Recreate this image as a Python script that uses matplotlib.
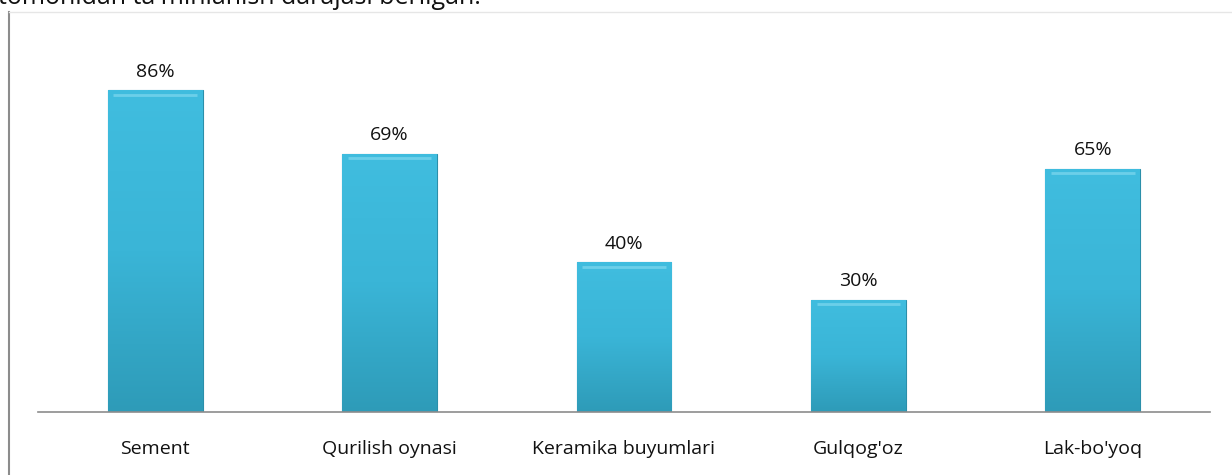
import numpy as np
import matplotlib.pyplot as plt
from matplotlib.lines import Line2D
from matplotlib.colors import LinearSegmentedColormap

categories = ['Sement', 'Qurilish oynasi', 'Keramika buyumlari', "Gulqog'oz", "Lak-bo'yoq"]
values = [86, 69, 40, 30, 65]
labels = ['86%', '69%', '40%', '30%', '65%']

plt.rcParams['font.family'] = ['Open Sans', 'DejaVu Sans']

fig = plt.figure(figsize=(12.32, 4.75), dpi=100)
ax = fig.add_axes([38 / 1232, 1 - 412 / 475, (1210 - 38) / 1232, 374 / 475])

x = np.arange(len(categories))
bars = ax.bar(x, values, width=0.405, color='#37B2D4', edgecolor='#2B8FAA', linewidth=0.8, zorder=2)

# vertical gradient inside each bar
grad = np.linspace(0, 1, 256).reshape(-1, 1)
cmap = LinearSegmentedColormap.from_list('b', ['#2E9BB8', '#3AB5D7', '#40BDDF'])
for b in bars:
    x0, y0 = b.get_x(), b.get_y()
    w, h = b.get_width(), b.get_height()
    im = ax.imshow(grad, cmap=cmap, aspect='auto', origin='lower',
                   extent=[x0, x0 + w, y0, y0 + h], zorder=2.5)
    im.set_clip_path(b)
    # top highlight
    ax.plot([x0 + w * 0.06, x0 + w * 0.94], [y0 + h - 1.2, y0 + h - 1.2],
            color='#7FD8EE', lw=2, alpha=0.7, zorder=3, solid_capstyle='butt')

for xi, v, lab in zip(x, values, labels):
    ax.text(xi, v + 2.6, lab, ha='center', va='bottom', fontsize=14, color='#111111')

ax.set_xlim(-0.5, 4.5)
ax.set_ylim(0, 100)
ax.set_xticks(x)
ax.set_xticklabels(categories, fontsize=14, color='#111111')
ax.tick_params(axis='x', length=0, pad=20)
ax.set_yticks([])
for s in ['top', 'right', 'left']:
    ax.spines[s].set_visible(False)
ax.spines['bottom'].set_color('#8C8C8C')
ax.spines['bottom'].set_linewidth(1.2)

# chart frame lines
fig.add_artist(Line2D([8.5 / 1232, 8.5 / 1232], [0, 1 - 12 / 475], color='#8C8C8C', lw=1.5))
fig.add_artist(Line2D([8.5 / 1232, 1], [1 - 12 / 475, 1 - 12 / 475], color='#E6E6E6', lw=1))

# cut-off line of document text above the chart
fig.text(-2 / 1232, 1 - 4 / 475, "tomonidan ta'minlanish darajasi berilgan.",
         ha='left', va='baseline', fontsize=18, color='#111111')

fig.savefig('out.png', dpi=100)
